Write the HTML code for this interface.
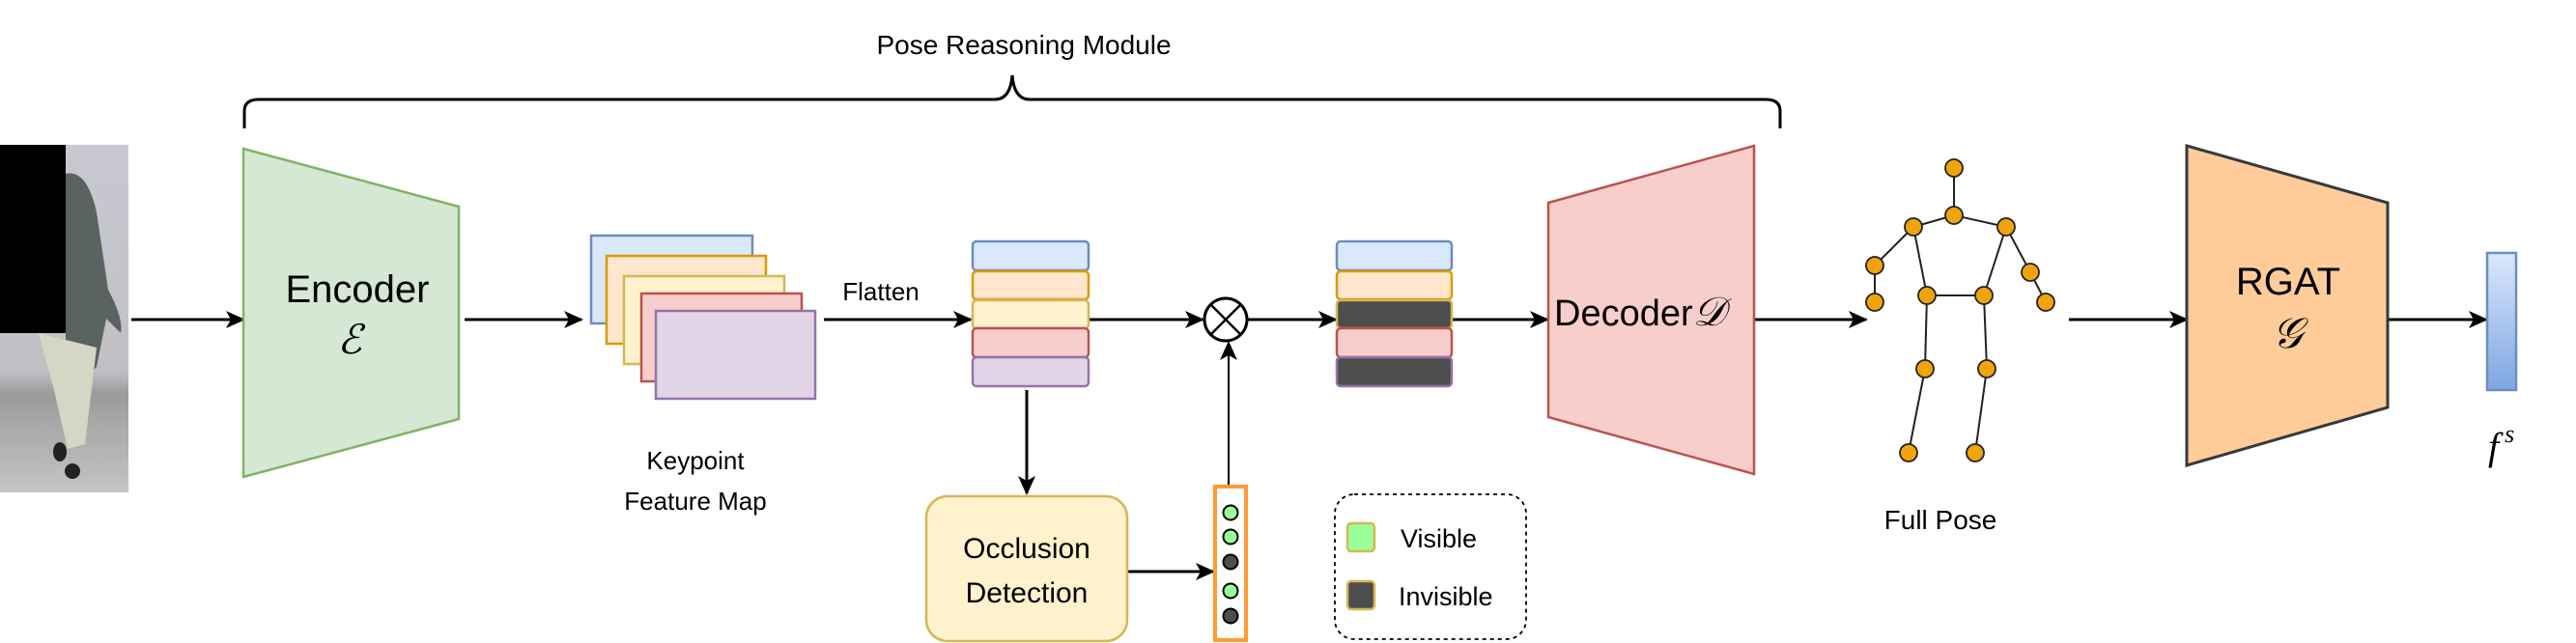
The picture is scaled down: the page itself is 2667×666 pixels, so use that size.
<!DOCTYPE html>
<html><head><meta charset="utf-8"><style>
html,body{margin:0;padding:0;background:#fff;}
svg{display:block;}
text{font-family:"Liberation Sans",sans-serif;fill:#000;}
.m{font-family:"Liberation Serif",serif;font-style:italic;}
</style></head><body>
<svg width="2667" height="666" viewBox="0 0 2667 666" xmlns="http://www.w3.org/2000/svg">
<defs>
<marker id="a" viewBox="0 0 20 20" refX="18" refY="10" markerWidth="20" markerHeight="20" markerUnits="userSpaceOnUse" orient="auto">
<path d="M0,1 L20,10 L0,19 L5,10 Z" fill="#000"/></marker>
<linearGradient id="fg" x1="0" y1="0" x2="0" y2="1"><stop offset="0" stop-color="#dae8fc"/><stop offset="1" stop-color="#7ea6e0"/></linearGradient>
<linearGradient id="bg" x1="0" y1="0" x2="0" y2="1"><stop offset="0" stop-color="#c8c8d2"/><stop offset="0.65" stop-color="#c0c0c4"/><stop offset="0.72" stop-color="#9a9a9a"/><stop offset="0.8" stop-color="#a8a8a8"/><stop offset="1" stop-color="#c4c4c4"/></linearGradient>
</defs>

<!-- photo -->
<rect x="0" y="150" width="133" height="360" fill="url(#bg)"/>
<path d="M68,180 Q90,175 100,220 L112,300 Q128,330 125,345 L110,330 L100,380 L80,400 L68,360 Z" fill="#5b6360"/>
<path d="M40,345 L100,360 L88,460 L70,465 L55,400 Z" fill="#d6d6c4"/>
<ellipse cx="62" cy="468" rx="7" ry="10" fill="#222"/>
<ellipse cx="75" cy="488" rx="8" ry="8" fill="#222"/>
<rect x="0" y="150" width="68" height="195" fill="#000"/>

<!-- title & brace -->
<text x="1060" y="56" font-size="28" text-anchor="middle">Pose Reasoning Module</text>
<path d="M253,133 L253,115 Q253,103 268,103 L1030,103 Q1046,103 1048,78 Q1050,103 1066,103 L1828,103 Q1843,103 1843,115 L1843,133" fill="none" stroke="#000" stroke-width="3"/>

<g stroke="#000" stroke-width="3" fill="none" marker-end="url(#a)">
<line x1="136" y1="331" x2="252" y2="331"/>
<line x1="481" y1="331" x2="602" y2="331"/>
<line x1="853" y1="331" x2="1005" y2="331"/>
<line x1="1127" y1="331" x2="1245" y2="331"/>
<line x1="1292" y1="331" x2="1383" y2="331"/>
<line x1="1503" y1="331" x2="1602" y2="331"/>
<line x1="1816" y1="331" x2="1932" y2="331"/>
<line x1="2142" y1="331" x2="2264" y2="331"/>
<line x1="2472" y1="331" x2="2574" y2="331"/>
<line x1="1063" y1="404" x2="1063" y2="511"/>
<line x1="1167" y1="592" x2="1256" y2="592"/>
</g>
<line x1="1272" y1="503" x2="1272" y2="355" stroke="#000" stroke-width="2" marker-end="url(#a)"/>

<!-- encoder -->
<polygon points="252,154 475,214 475,434 252,494" fill="#d5e8d4" stroke="#82b366" stroke-width="2.5"/>
<text x="370" y="313" font-size="40" text-anchor="middle">Encoder</text>
<text x="362" y="366" font-size="42" text-anchor="middle" class="m">ℰ</text>

<!-- feature maps -->
<rect x="612" y="244" width="167" height="91" fill="#dae8fc" stroke="#6c8ebf" stroke-width="2.5"/>
<rect x="628" y="265" width="165" height="91" fill="#ffe6cc" stroke="#d79b00" stroke-width="2.5"/>
<rect x="646" y="286" width="166" height="91" fill="#fff2cc" stroke="#d6b656" stroke-width="2.5"/>
<rect x="664" y="304" width="166" height="91" fill="#f8cecc" stroke="#b85450" stroke-width="2.5"/>
<rect x="679" y="322" width="165" height="91" fill="#e1d5e7" stroke="#9673a6" stroke-width="2.5"/>
<text x="720" y="486" font-size="26" text-anchor="middle">Keypoint</text>
<text x="720" y="528" font-size="26" text-anchor="middle">Feature Map</text>
<text x="912" y="311" font-size="26" text-anchor="middle">Flatten</text>

<g stroke-width="2.5">
<rect x="1007" y="250" width="120" height="30" rx="4" fill="#dae8fc" stroke="#6c8ebf"/>
<rect x="1007" y="281" width="120" height="29" rx="4" fill="#ffe6cc" stroke="#d79b00"/>
<rect x="1007" y="311" width="120" height="29" rx="4" fill="#fff2cc" stroke="#d6b656"/>
<rect x="1007" y="340" width="120" height="30" rx="4" fill="#f8cecc" stroke="#b85450"/>
<rect x="1007" y="370" width="120" height="30" rx="4" fill="#e1d5e7" stroke="#9673a6"/>
</g>

<circle cx="1269" cy="331" r="22" fill="#fff" stroke="#000" stroke-width="3"/>
<line x1="1253" y1="315" x2="1285" y2="347" stroke="#000" stroke-width="2.5"/>
<line x1="1285" y1="315" x2="1253" y2="347" stroke="#000" stroke-width="2.5"/>

<g stroke-width="2.5">
<rect x="1384" y="250" width="119" height="30" rx="4" fill="#dae8fc" stroke="#6c8ebf"/>
<rect x="1384" y="281" width="119" height="29" rx="4" fill="#ffe6cc" stroke="#d79b00"/>
<rect x="1384" y="311" width="119" height="29" rx="4" fill="#4d4d4d" stroke="#d6b656"/>
<rect x="1384" y="340" width="119" height="30" rx="4" fill="#f8cecc" stroke="#b85450"/>
<rect x="1384" y="370" width="119" height="30" rx="4" fill="#4d4d4d" stroke="#9673a6"/>
</g>

<polygon points="1603,210 1816,151 1816,491 1603,432" fill="#f8cecc" stroke="#b85450" stroke-width="2.5"/>
<text x="1609" y="337" font-size="38">Decoder<tspan class="m" font-size="42">𝒟</tspan></text>

<rect x="959" y="514" width="208" height="150" rx="22" fill="#fff2cc" stroke="#d6b656" stroke-width="2.5"/>
<text x="1063" y="578" font-size="30" text-anchor="middle">Occlusion</text>
<text x="1063" y="624" font-size="30" text-anchor="middle">Detection</text>

<rect x="1258" y="504" width="32" height="159" fill="#fff" stroke="#ff9933" stroke-width="4"/>
<g stroke="#000" stroke-width="2">
<circle cx="1274" cy="531" r="7.5" fill="#99ff99"/>
<circle cx="1274" cy="556" r="7.5" fill="#99ff99"/>
<circle cx="1274" cy="582" r="7.5" fill="#4d4d4d"/>
<circle cx="1274" cy="612" r="7.5" fill="#99ff99"/>
<circle cx="1274" cy="638" r="7.5" fill="#4d4d4d"/>
</g>

<rect x="1382" y="512" width="198" height="150" rx="20" fill="none" stroke="#000" stroke-width="1.8" stroke-dasharray="4,4"/>
<rect x="1395" y="542" width="28" height="29" rx="4" fill="#99ff99" stroke="#d6b656" stroke-width="2.5"/>
<rect x="1395" y="602" width="28" height="29" rx="4" fill="#4d4d4d" stroke="#d6b656" stroke-width="2.5"/>
<text x="1450" y="567" font-size="27">Visible</text>
<text x="1448" y="627" font-size="27">Invisible</text>

<g stroke="#222" stroke-width="2">
<line x1="2023" y1="174" x2="2023" y2="223"/>
<line x1="2023" y1="223" x2="1981" y2="235"/>
<line x1="2023" y1="223" x2="2077" y2="235"/>
<line x1="1981" y1="235" x2="1941" y2="275"/>
<line x1="1941" y1="275" x2="1941" y2="313"/>
<line x1="2077" y1="235" x2="2102" y2="282"/>
<line x1="2102" y1="282" x2="2118" y2="313"/>
<line x1="1981" y1="235" x2="1995" y2="306"/>
<line x1="2077" y1="235" x2="2054" y2="306"/>
<line x1="1995" y1="306" x2="2054" y2="306"/>
<line x1="1995" y1="306" x2="1993" y2="382"/>
<line x1="2054" y1="306" x2="2057" y2="382"/>
<line x1="1993" y1="382" x2="1976" y2="469"/>
<line x1="2057" y1="382" x2="2045" y2="469"/>
</g>
<g fill="#f0a30a" stroke="#222" stroke-width="1.8">
<circle cx="2023" cy="174" r="9"/><circle cx="2023" cy="223" r="9"/>
<circle cx="1981" cy="235" r="9"/><circle cx="2077" cy="235" r="9"/>
<circle cx="1941" cy="275" r="9"/><circle cx="1941" cy="313" r="9"/>
<circle cx="2102" cy="282" r="9"/><circle cx="2118" cy="313" r="9"/>
<circle cx="1995" cy="306" r="9"/><circle cx="2054" cy="306" r="9"/>
<circle cx="1993" cy="382" r="9"/><circle cx="2057" cy="382" r="9"/>
<circle cx="1976" cy="469" r="9"/><circle cx="2045" cy="469" r="9"/>
</g>
<text x="2009" y="548" font-size="28" text-anchor="middle">Full Pose</text>

<polygon points="2264,151 2472,210 2472,422 2264,482" fill="#ffcc99" stroke="#36393d" stroke-width="3"/>
<text x="2369" y="305" font-size="40" text-anchor="middle">RGAT</text>
<text x="2368" y="360" font-size="44" text-anchor="middle" class="m">𝒢</text>

<rect x="2575" y="262" width="30" height="142" fill="url(#fg)" stroke="#6c8ebf" stroke-width="2.5"/>
<text x="2576" y="476" font-size="40" class="m">f<tspan font-size="26" dy="-18" dx="6">s</tspan></text>
</svg>
</body></html>
